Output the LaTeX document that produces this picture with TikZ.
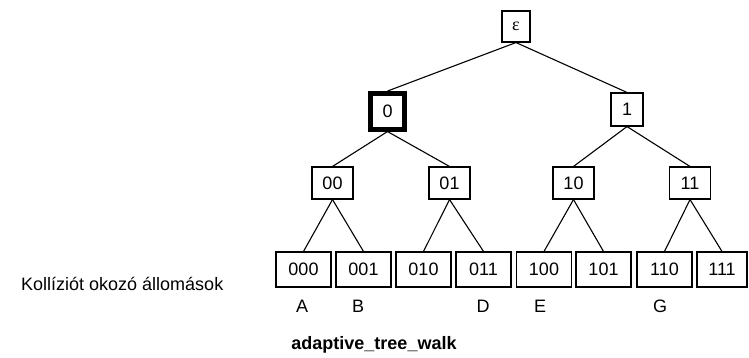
\documentclass[tikz,border=0pt]{standalone}
\usepackage{fontspec}
\setmainfont{Liberation Sans}
\newfontfamily\epsfont{Liberation Serif}
\begin{document}
\begin{tikzpicture}[x=1pt,y=-1pt,
  box/.style={draw,line width=1.1pt,inner sep=0pt,font=\fontsize{18}{21}\selectfont},
  topbox/.style={box,minimum width=28pt,minimum height=31pt},
  hibox/.style={box,line width=5pt,minimum width=34pt,minimum height=35.5pt},
  onebox/.style={box,minimum width=32pt,minimum height=33pt},
  midbox/.style={box,minimum width=41pt,minimum height=32pt},
  leafbox/.style={box,minimum width=55pt,minimum height=35pt},
  lbl/.style={inner sep=0pt,font=\fontsize{18}{21}\selectfont},
  edge/.style={line width=1.1pt}]
\useasboundingbox (0,0) rectangle (749,358);
\fill[white] (0,0) rectangle (749,358);
% level 0
\node[topbox] (eps) at (516,26.5) {\epsfont ε};
% level 1
\node[hibox] (n0) at (387.5,111.3) {0};
\node[onebox] (n1) at (627,109.5) {1};
% level 2
\node[midbox] (n00) at (332.5,183) {00};
\node[midbox] (n01) at (449.5,183) {01};
\node[midbox] (n10) at (573.5,183) {10};
\node[midbox] (n11) at (690,183) {11};
% level 3
\node[leafbox] (n000) at (303.5,269.5) {000};
\node[leafbox] (n001) at (363.5,269.5) {001};
\node[leafbox] (n010) at (423.5,269.5) {010};
\node[leafbox] (n011) at (483.5,269.5) {011};
\node[leafbox] (n100) at (544,269.5) {100};
\node[leafbox] (n101) at (603.5,269.5) {101};
\node[leafbox] (n110) at (664.5,269.5) {110};
\node[leafbox,minimum width=50pt] (n111) at (722,269.5) {111};
% edges
\draw[edge] (eps.south) -- (n0.north);
\draw[edge] (eps.south) -- (n1.north);
\draw[edge] (n0.south) -- (n00.north);
\draw[edge] (n0.south) -- (n01.north);
\draw[edge] (n1.south) -- (n10.north);
\draw[edge] (n1.south) -- (n11.north);
\draw[edge] (n00.south) -- (n000.north);
\draw[edge] (n00.south) -- (n001.north);
\draw[edge] (n01.south) -- (n010.north);
\draw[edge] (n01.south) -- (n011.north);
\draw[edge] (n10.south) -- (n100.north);
\draw[edge] (n10.south) -- (n101.north);
\draw[edge] (n11.south) -- (n110.north);
\draw[edge] (n11.south) -- (n111.north);
% station labels
\node[lbl] (la) at (302,306) {A};
\node[lbl] (lb) at (358,306) {B};
\node[lbl] (ld) at (483,306) {D};
\node[lbl] (le) at (540,306) {E};
\node[lbl] (lg) at (660,306) {G};
\node[lbl,anchor=west] (coll) at (21,284) {Kollíziót okozó állomások};
\node[lbl,font=\fontsize{18}{21}\selectfont\bfseries] (title) at (374,345) {adaptive\_tree\_walk};
\end{tikzpicture}
\end{document}
